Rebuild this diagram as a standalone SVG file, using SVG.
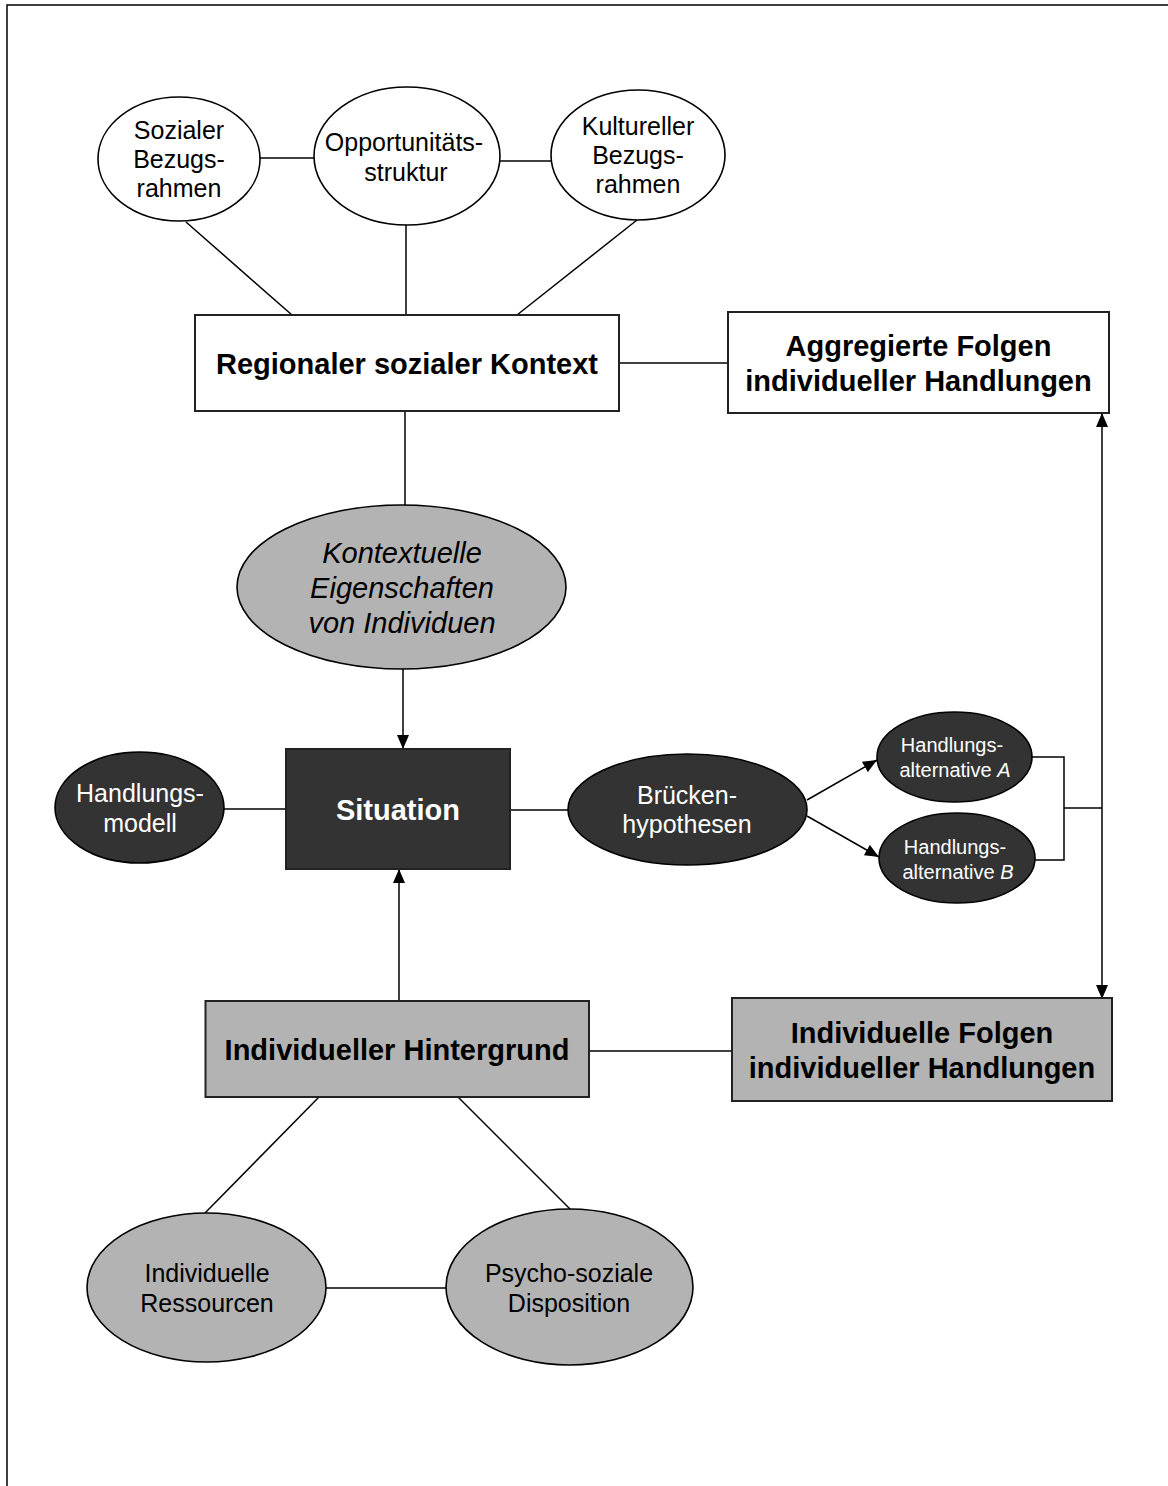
<svg xmlns="http://www.w3.org/2000/svg" width="1168" height="1486" viewBox="0 0 1168 1486">
<style>
text{font-family:"Liberation Sans",Arial,sans-serif;text-anchor:middle;}
.r{font-size:25px;fill:#000;}
.rw{font-size:25px;fill:#fff;}
.s{font-size:20px;fill:#fff;}
.b{font-size:29px;font-weight:bold;fill:#000;}
.bw{font-size:29px;font-weight:bold;fill:#fff;}
.it{font-size:29px;font-style:italic;fill:#000;}
.white{fill:#fff;stroke:#000;stroke-width:1.6;}
.gray{fill:#b3b3b3;stroke:#000;stroke-width:1.6;}
.dark{fill:#333;stroke:#000;stroke-width:1.6;}
.box{stroke:#222;stroke-width:2;}
.ln{stroke:#000;stroke-width:1.5;fill:none;}
</style>
<defs>
<marker id="ah" viewBox="0 0 14 12" refX="14" refY="6" markerWidth="14" markerHeight="12" markerUnits="userSpaceOnUse" orient="auto-start-reverse">
<path d="M0,0 L14,6 L0,12 Z" fill="#000"/>
</marker>
</defs>
<rect x="7" y="5" width="1200" height="1520" fill="none" stroke="#000" stroke-width="1.5"/>
<g id="connectors">
<line class="ln" x1="260" y1="158" x2="314" y2="158"/>
<line class="ln" x1="499" y1="161" x2="551" y2="161"/>
<line class="ln" x1="186" y1="222" x2="292" y2="315"/>
<line class="ln" x1="406" y1="225" x2="406" y2="315"/>
<line class="ln" x1="637" y1="220" x2="517" y2="315"/>
<line class="ln" x1="619" y1="363" x2="728" y2="363"/>
<line class="ln" x1="405" y1="411" x2="405" y2="505"/>
<line class="ln" x1="403" y1="669" x2="403" y2="749" marker-end="url(#ah)"/>
<line class="ln" x1="224" y1="809" x2="286" y2="809"/>
<line class="ln" x1="510" y1="810" x2="568" y2="810"/>
<line class="ln" x1="807" y1="800" x2="877" y2="760" marker-end="url(#ah)"/>
<line class="ln" x1="807" y1="816" x2="879" y2="857" marker-end="url(#ah)"/>
<polyline class="ln" points="1032,757 1064,757 1064,860 1035,860"/>
<line class="ln" x1="1064" y1="808" x2="1102" y2="808"/>
<line class="ln" x1="1102" y1="413" x2="1102" y2="999" marker-start="url(#ah)" marker-end="url(#ah)"/>
<line class="ln" x1="399" y1="1001" x2="399" y2="869" marker-end="url(#ah)"/>
<line class="ln" x1="589" y1="1051" x2="732" y2="1051"/>
<line class="ln" x1="319" y1="1097" x2="205" y2="1213"/>
<line class="ln" x1="458" y1="1097" x2="570" y2="1209"/>
<line class="ln" x1="326" y1="1288" x2="446" y2="1288"/>
</g>
<g id="sozialer">
<ellipse class="white" cx="179" cy="159" rx="81" ry="62"/>
<text class="r" x="179" y="139">Sozialer</text>
<text class="r" x="179" y="168">Bezugs-</text>
<text class="r" x="179" y="197">rahmen</text>
</g>
<g id="opportunitaet">
<ellipse class="white" cx="407" cy="156" rx="93" ry="69"/>
<text class="r" x="404" y="150.5">Opportunitäts-</text>
<text class="r" x="406" y="181">struktur</text>
</g>
<g id="kultureller">
<ellipse class="white" cx="638" cy="155" rx="87" ry="65"/>
<text class="r" x="638" y="135">Kultureller</text>
<text class="r" x="638" y="164">Bezugs-</text>
<text class="r" x="638" y="193">rahmen</text>
</g>
<g id="regional">
<rect class="white box" x="195" y="315" width="424" height="96"/>
<text class="b" x="407" y="373.5">Regionaler sozialer Kontext</text>
</g>
<g id="aggregiert">
<rect class="white box" x="728" y="312" width="381" height="101"/>
<text class="b" x="918.5" y="355.5">Aggregierte Folgen</text>
<text class="b" x="918.5" y="390.5">individueller Handlungen</text>
</g>
<g id="kontextuelle">
<ellipse class="gray" cx="401.5" cy="587" rx="164.5" ry="82"/>
<text class="it" x="402" y="562.5">Kontextuelle</text>
<text class="it" x="402" y="597.5">Eigenschaften</text>
<text class="it" x="402" y="632.5">von Individuen</text>
</g>
<g id="handlungsmodell">
<ellipse class="dark" cx="139.5" cy="807.5" rx="84.5" ry="55.5"/>
<text class="rw" x="140" y="802">Handlungs-</text>
<text class="rw" x="140" y="832">modell</text>
</g>
<g id="situation">
<rect class="dark box" x="286" y="749" width="224" height="120"/>
<text class="bw" x="398" y="819.5">Situation</text>
</g>
<g id="bruecken">
<ellipse class="dark" cx="687.5" cy="809.5" rx="119.5" ry="55.5"/>
<text class="rw" x="687" y="804">Brücken-</text>
<text class="rw" x="687" y="833">hypothesen</text>
</g>
<g id="alternativeA">
<ellipse class="dark" cx="954.5" cy="757" rx="77.5" ry="45"/>
<text class="s" x="952" y="751.7">Handlungs-</text>
<text class="s" x="955" y="776.7">alternative <tspan font-style="italic">A</tspan></text>
</g>
<g id="alternativeB">
<ellipse class="dark" cx="957" cy="858" rx="78" ry="45"/>
<text class="s" x="955" y="853.5">Handlungs-</text>
<text class="s" x="958" y="878.5">alternative <tspan font-style="italic">B</tspan></text>
</g>
<g id="hintergrund">
<rect class="gray box" x="205.5" y="1001" width="383.5" height="96"/>
<text class="b" x="397" y="1059.5">Individueller Hintergrund</text>
</g>
<g id="individuelleFolgen">
<rect class="gray box" x="732" y="998" width="380" height="103"/>
<text class="b" x="922" y="1042.5">Individuelle Folgen</text>
<text class="b" x="922" y="1077.5">individueller Handlungen</text>
</g>
<g id="ressourcen">
<ellipse class="gray" cx="206.5" cy="1287.5" rx="119.5" ry="74.5"/>
<text class="r" x="207" y="1282">Individuelle</text>
<text class="r" x="207" y="1312">Ressourcen</text>
</g>
<g id="psychosozial">
<ellipse class="gray" cx="569.5" cy="1287" rx="123.5" ry="78"/>
<text class="r" x="569" y="1282">Psycho-soziale</text>
<text class="r" x="569" y="1312">Disposition</text>
</g>
</svg>
